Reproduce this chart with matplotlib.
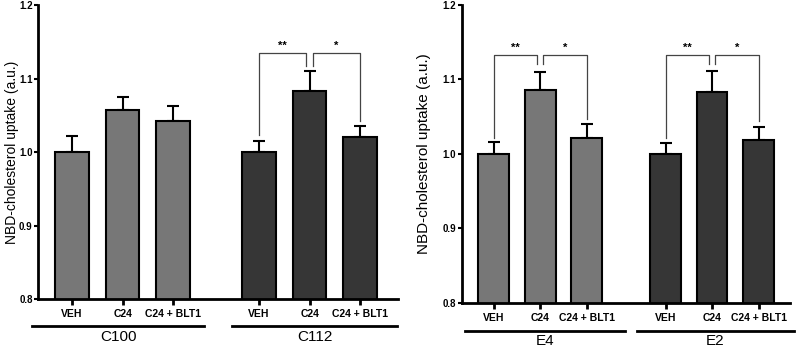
import matplotlib.pyplot as plt
import numpy as np
from matplotlib.transforms import blended_transform_factory

plt.rcParams['font.family'] = ['Liberation Sans', 'DejaVu Sans']

# data
treatments = ['VEH', 'C24', 'C24 + BLT1']
pos = [0, 1, 2, 3.7, 4.7, 5.7]

left_groups = ['C100', 'C112']
left_means = [1.000, 1.057, 1.042, 1.000, 1.083, 1.020]
left_errs = [0.022, 0.018, 0.021, 0.015, 0.027, 0.015]

right_groups = ['E4', 'E2']
right_means = [1.000, 1.086, 1.021, 1.000, 1.083, 1.019]
right_errs = [0.016, 0.024, 0.019, 0.015, 0.028, 0.017]

colors = ['#777777'] * 3 + ['#363636'] * 3

fig = plt.figure(figsize=(7.96, 3.47), dpi=100)
ax1 = fig.add_axes([0.048, 0.138, 0.452, 0.847])
ax2 = fig.add_axes([0.580, 0.127, 0.412, 0.859])


def draw(ax, means, errs, groups, xlim, glines, brackets, lab_fs, lpad):
    ax.bar(pos, means, width=0.66, color=colors, edgecolor='black',
           linewidth=1.5, bottom=0, zorder=2)
    ax.errorbar(pos, means, yerr=[np.zeros(6), errs], fmt='none',
                ecolor='black', elinewidth=1.5, capsize=4.5, capthick=1.5, zorder=1)
    ax.set_ylim(0.8, 1.2)
    ax.set_xlim(*xlim)
    ax.set_yticks([0.8, 0.9, 1.0, 1.1, 1.2])
    ax.set_yticklabels(['0.8', '0.9', '1.0', '1.1', '1.2'], fontsize=7, fontweight='bold')
    ax.set_xticks(pos)
    ax.set_xticklabels(treatments * 2, fontsize=7.5, fontweight='bold')
    ax.tick_params(axis='x', length=4, width=2, pad=3)
    ax.tick_params(axis='y', length=3, width=1.5, pad=1)
    for s in ['top', 'right']:
        ax.spines[s].set_visible(False)
    for s in ['left', 'bottom']:
        ax.spines[s].set_linewidth(2)
    ax.set_ylabel('NBD-cholesterol uptake (a.u.)', fontsize=lab_fs, labelpad=lpad)

    tr = blended_transform_factory(ax.transData, ax.transAxes)
    for (x0, x1), g in zip(glines, groups):
        ax.plot([x0, x1], [-0.093, -0.093], color='black', lw=2,
                transform=tr, clip_on=False)
        ax.text((x0 + x1) / 2, -0.128, g, fontsize=11, ha='center', va='center',
                transform=tr)

    # significance brackets
    for (xa, xb, ya, yb, top, star) in brackets:
        ax.plot([xa, xa, xb, xb], [ya, top, top, yb], color='#444444', lw=0.9,
                zorder=3)
        ax.text((xa + xb) / 2, top + 0.003, star, ha='center', va='bottom',
                fontsize=8, fontweight='bold')


br_left = [
    (3.7, 4.63, 1.023, 1.117, 1.135, '**'),
    (4.77, 5.7, 1.117, 1.042, 1.135, '*'),
]
draw(ax1, left_means, left_errs, left_groups, (-0.67, 6.45),
     [(-0.79, 2.61), (3.17, 6.44)], br_left, 10, 0)

br_right = [
    (0, 0.93, 1.022, 1.12, 1.133, '**'),
    (1.07, 2.0, 1.12, 1.047, 1.133, '*'),
    (3.7, 4.63, 1.022, 1.12, 1.133, '**'),
    (4.77, 5.7, 1.12, 1.044, 1.133, '*'),
]
draw(ax2, right_means, right_errs, right_groups, (-0.69, 6.37),
     [(-0.62, 2.82), (3.08, 6.47)], br_right, 11, 8)

fig.savefig('out.png', dpi=100)
